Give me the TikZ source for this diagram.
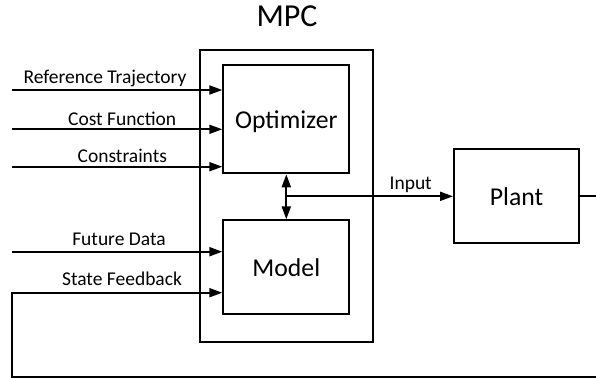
\documentclass[tikz,border=0pt]{standalone}
\usepackage{fontspec}
\setmainfont{Carlito}
\usetikzlibrary{arrows.meta}
\begin{document}
\begin{tikzpicture}[x=1pt,y=-1pt,
  line width=2pt,
  block/.style={draw, line width=2pt, inner sep=0pt, text depth=0pt,
    font=\fontsize{25.7}{30}\selectfont},
  tip/.tip={Triangle[length=13pt,width=9pt]},
  sig/.style={-tip},
  lab/.style={anchor=base, inner sep=0pt, font=\fontsize{19.5}{23}\selectfont}]
\useasboundingbox (0,0) rectangle (596,377);

% controller frame and its title
\node[draw, line width=2pt, inner sep=0pt, minimum width=172.7pt,
  minimum height=292pt] (mpc) at (286.35,196) {};
\node[anchor=base, inner sep=0pt, font=\fontsize{32}{38}\selectfont]
  (title) at (287,27) {MPC};

% blocks
\node[block, minimum width=126pt, minimum height=108.3pt] (opt) at (286.3,119.2) {Optimizer};
\node[block, minimum width=126pt, minimum height=94pt] (model) at (286.3,267.3) {Model};
\node[block, minimum width=125pt, minimum height=94pt] (plant) at (516.5,196.3) {Plant};

% inputs to the optimizer
\coordinate (rt) at (12,90);
\coordinate (cf) at (12,129.3);
\coordinate (cs) at (12,166.7);
\draw[sig] (rt) -- (opt.west |- rt);
\draw[sig] (cf) -- (opt.west |- cf);
\draw[sig] (cs) -- (opt.west |- cs);
\node[lab] (lrt) at (105,84) {Reference Trajectory};
\node[lab] (lcf) at (122.2,125) {Cost Function};
\node[lab] (lcs) at (122.3,162.7) {Constraints};

% inputs to the model
\coordinate (fd) at (12,251.7);
\coordinate (fb) at (12,292.7);
\draw[sig] (fd) -- (model.west |- fd);
\node[lab] (lfd) at (119,245.7) {Future Data};
\node[lab] (lsf) at (122,285.7) {State Feedback};

% optimizer <-> model, and the plant input
\draw[tip-tip] (opt.south) -- (model.north);
\coordinate (jn) at (opt.south |- plant.west);
\draw[sig] (jn) -- (plant.west);
\node[lab] (lin) at (410.7,189.3) {Input};

% state feedback loop from the plant output
\coordinate (fr) at (604,376.5);
\coordinate (fl) at (12,376.5);
\draw[sig] (plant.east) -| (fr) -- (fl) -- (fb) -- (model.west |- fb);
\end{tikzpicture}
\end{document}
